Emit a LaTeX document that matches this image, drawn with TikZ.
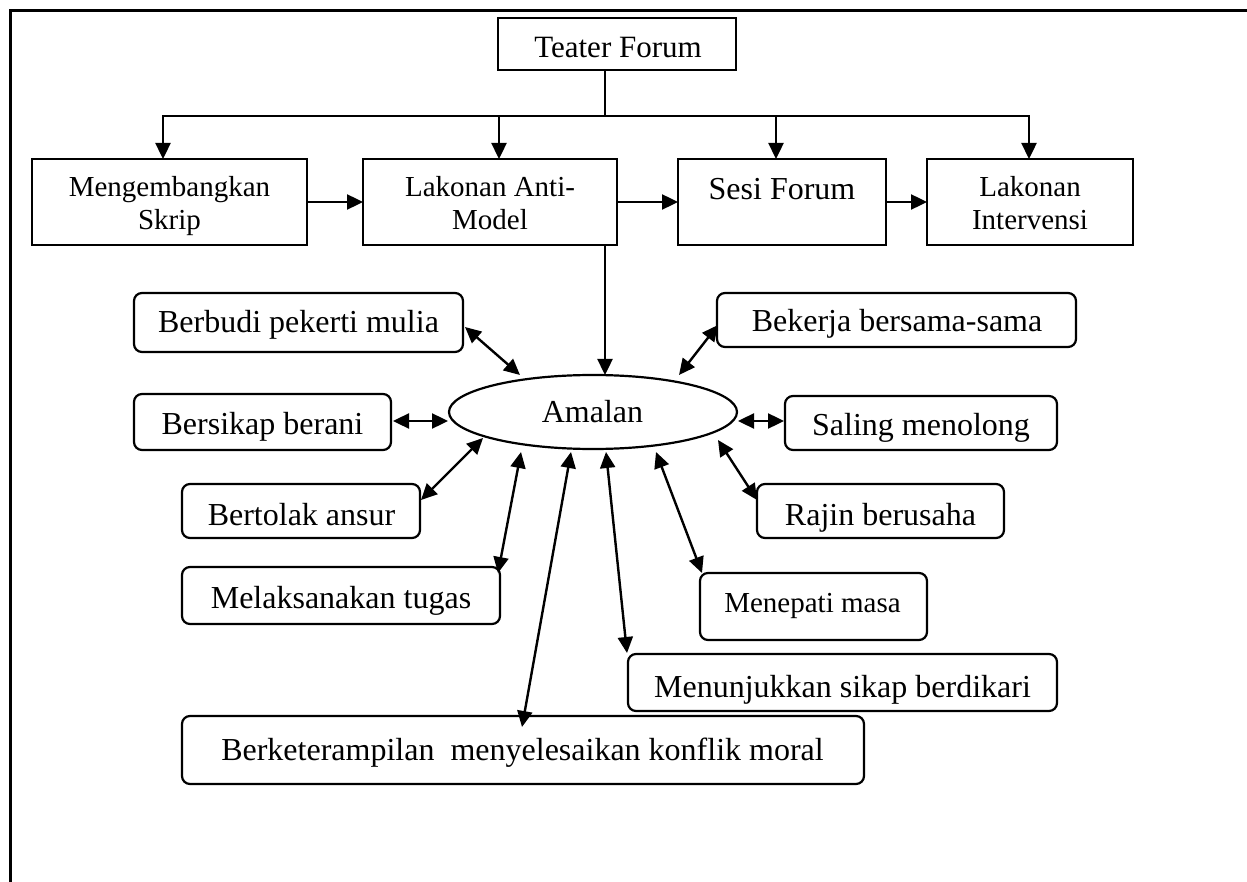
\documentclass[tikz,border=0pt]{standalone}
\usepackage{fontspec}
\setmainfont{Liberation Serif}
\usetikzlibrary{shapes.geometric,arrows.meta,calc}
\begin{document}
\begin{tikzpicture}[x=1pt,y=-1pt,
  box/.style={draw, line width=2.2pt, inner sep=0pt, outer sep=0pt, rectangle},
  rbox/.style={box, rounded corners=8pt},
  txt/.style={anchor=base, inner sep=0pt, outer sep=0pt, font=\fontsize{32}{38}\selectfont},
  stxt/.style={txt, font=\fontsize{29}{35}\selectfont},
  conn/.style={line width=2.4pt},
  arr/.style={conn, -{Triangle[length=16pt,width=15pt]}},
  dbl/.style={conn, {Triangle[length=16pt,width=15pt]}-{Triangle[length=16pt,width=15pt]}}]
\useasboundingbox (0,0) rectangle (1247,882);
% frame
\draw[line width=3pt] (10,882) -- (10,11) -- (1247,11);
% top boxes
\node[box, minimum width=238pt, minimum height=52pt] (tf) at (617,44) {};
\node[txt, font=\fontsize{31}{37}\selectfont] (tft) at (618,58) {Teater Forum};
\node[box, minimum width=275pt, minimum height=86pt] (b1) at (169.5,202) {};
\node[stxt] (b1t1) at (169.5,197) {Mengembangkan};
\node[stxt] (b1t2) at (169.5,230) {Skrip};
\node[box, minimum width=254pt, minimum height=86pt] (b2) at (490,202) {};
\node[stxt] (b2t1) at (490,197) {Lakonan Anti-};
\node[stxt] (b2t2) at (490,230) {Model};
\node[box, minimum width=208pt, minimum height=86pt] (b3) at (782,202) {};
\node[txt] (b3t) at (782,200) {Sesi Forum};
\node[box, minimum width=206pt, minimum height=86pt] (b4) at (1030,202) {};
\node[stxt] (b4t1) at (1030,197) {Lakonan};
\node[stxt] (b4t2) at (1030,230) {Intervensi};
% ellipse
\node[ellipse, draw, line width=2.2pt, minimum width=288pt, minimum height=74pt, inner sep=0pt, outer sep=0pt] (amalan) at (593,412) {};
\node[txt] (amalant) at (592.5,422) {Amalan};
% rounded boxes
\node[rbox, minimum width=329pt, minimum height=59pt] (berbudi) at (298.5,322.5) {};
\node[txt] (berbudit) at (298.5,333) {Berbudi pekerti mulia};
\node[rbox, minimum width=257pt, minimum height=56pt] (bersikap) at (262.5,422) {};
\node[txt] (bersikapt) at (262.5,434) {Bersikap berani};
\node[rbox, minimum width=238pt, minimum height=54pt] (bertolak) at (301,511) {};
\node[txt] (bertolakt) at (301.5,525) {Bertolak ansur};
\node[rbox, minimum width=318pt, minimum height=57pt] (melak) at (341,595.5) {};
\node[txt] (melakt) at (341,608) {Melaksanakan tugas};
\node[rbox, minimum width=359pt, minimum height=54pt] (bekerja) at (896.5,320) {};
\node[txt] (bekerjat) at (897,332) {Bekerja bersama-sama};
\node[rbox, minimum width=272pt, minimum height=54pt] (saling) at (921,423) {};
\node[txt] (salingt) at (921,435) {Saling menolong};
\node[rbox, minimum width=247pt, minimum height=54pt] (rajin) at (880.5,511) {};
\node[txt] (rajint) at (880.5,525) {Rajin berusaha};
\node[rbox, minimum width=227pt, minimum height=67pt] (menepati) at (813.5,606.5) {};
\node[stxt] (menepatit) at (812.5,612) {Menepati masa};
\node[rbox, minimum width=429pt, minimum height=57pt] (menunjuk) at (842.5,682.5) {};
\node[txt] (menunjukt) at (842.5,697) {Menunjukkan sikap berdikari};
\node[rbox, minimum width=682pt, minimum height=68pt] (berket) at (523,750) {};
\node[txt] (berkett) at (522.5,760) {Berketerampilan\ \ menyelesaikan konflik moral};
% tree connectors
\draw[conn] ([shift={(-12,0)}]tf.south) -- ++(0,46) coordinate (bus);
\coordinate (a1) at ([shift={(-6.5,0)}]b1.north);
\coordinate (a2) at ([shift={(9,0)}]b2.north);
\coordinate (a3) at ([shift={(-6,0)}]b3.north);
\coordinate (a4) at ([shift={(-1,0)}]b4.north);
\draw[conn, line cap=rect] (a1 |- bus) -- (a4 |- bus);
\draw[arr] (a1 |- bus) -- (a1);
\draw[arr] (a2 |- bus) -- (a2);
\draw[arr] (a3 |- bus) -- (a3);
\draw[arr] (a4 |- bus) -- (a4);
\draw[arr] (b1.east) -- (b2.west);
\draw[arr] (b2.east) -- (b3.west);
\draw[arr] (b3.east) -- (b4.west);
\draw[arr] ([shift={(115,0)}]b2.south) -- ([shift={(12,-37)}]amalan.center);
% double arrows
\draw[dbl] ([shift={(2,4.5)}]berbudi.east) -- ([shift={(-73,-37)}]amalan.center);
\draw[dbl] ([shift={(2,-1)}]bersikap.east) -- ([shift={(-145,9)}]amalan.center);
\draw[dbl] ([shift={(1,-11)}]bertolak.east) -- ([shift={(-110,26)}]amalan.center);
\draw[dbl] ([shift={(-2,6)}]melak.north east) -- ([shift={(-72,40)}]amalan.center);
\draw[dbl] ([shift={(-1,11)}]berket.north) -- ([shift={(-22,40)}]amalan.center);
\draw[dbl] ([shift={(-1,-1)}]menunjuk.north west) -- ([shift={(13,40)}]amalan.center);
\draw[dbl] ([shift={(2,0)}]menepati.north west) -- ([shift={(63,40)}]amalan.center);
\draw[dbl] ([shift={(0,-11)}]rajin.west) -- ([shift={(125,28)}]amalan.center);
\draw[dbl] ([shift={(-1,-2)}]saling.west) -- ([shift={(145,9)}]amalan.center);
\draw[dbl] ([shift={(1,5)}]bekerja.west) -- ([shift={(86,-37)}]amalan.center);
\end{tikzpicture}
\end{document}
